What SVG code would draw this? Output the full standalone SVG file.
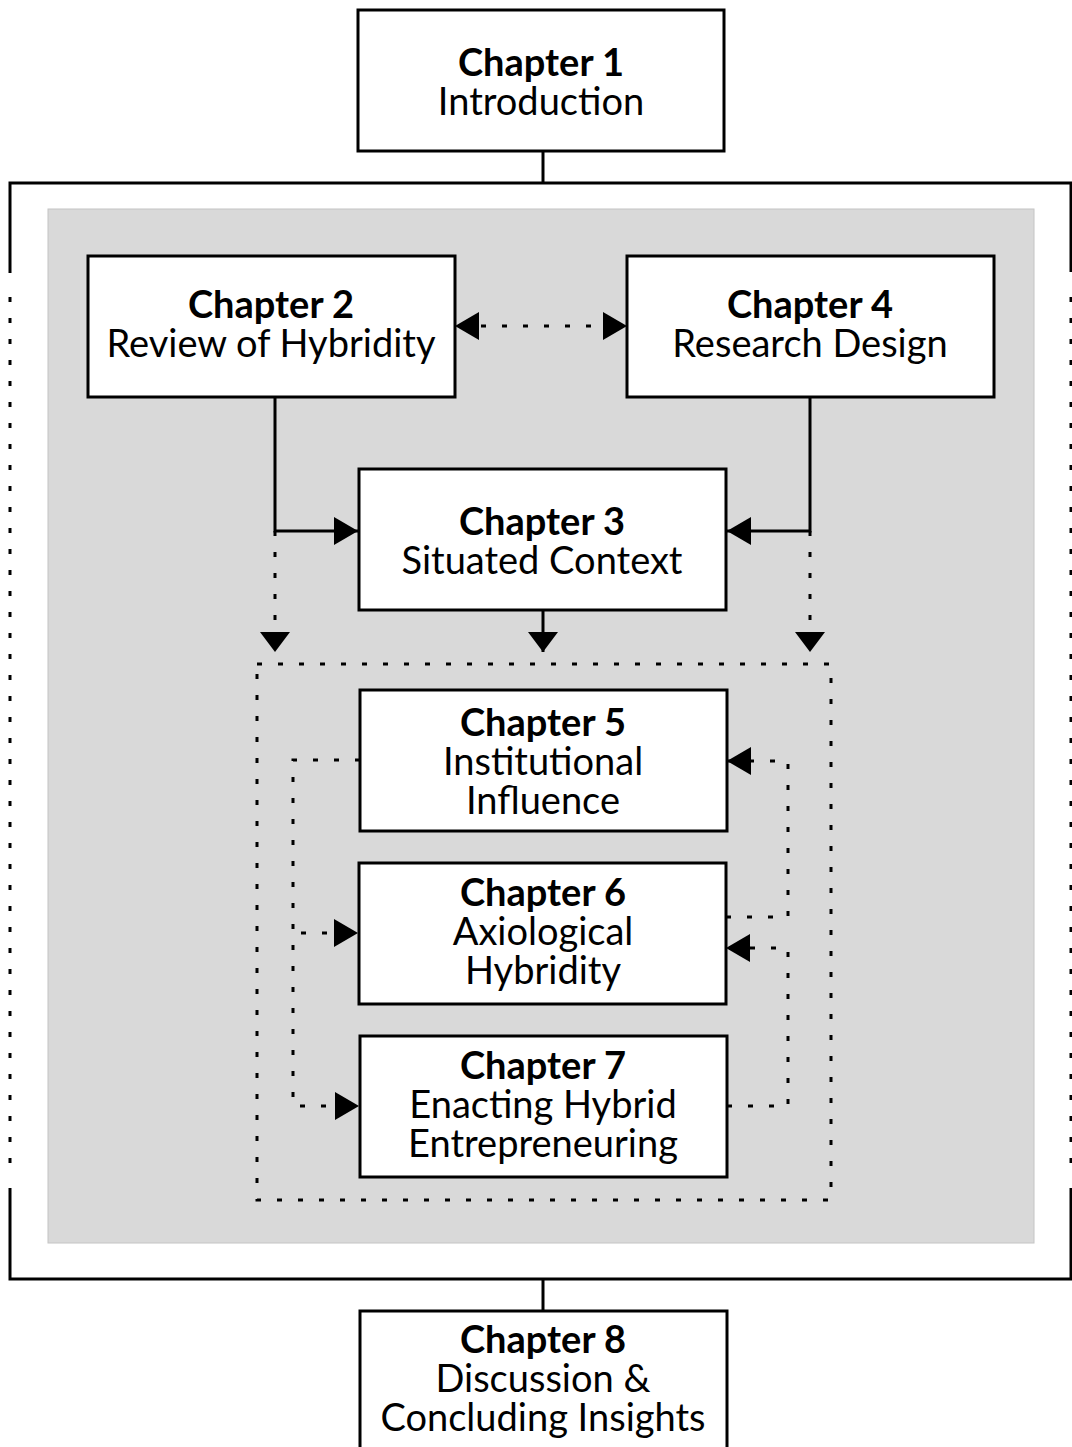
<svg xmlns="http://www.w3.org/2000/svg" width="1072" height="1447" viewBox="0 0 1072 1447">
  <style>
    .box { fill: #ffffff; stroke: #000000; stroke-width: 3; }
    .solid { fill: none; stroke: #000000; stroke-width: 3; }
    .dot { fill: none; stroke: #000000; stroke-width: 3; stroke-dasharray: 5 16; }
    .title { font-family: Lato, "Liberation Sans", sans-serif; font-weight: 700; font-size: 38px; fill: #000000; text-anchor: middle; }
    .sub { font-family: Lato, "Liberation Sans", sans-serif; font-weight: 400; font-size: 38px; fill: #000000; text-anchor: middle; }
  </style>
  <defs>
    <marker id="arrow" markerUnits="userSpaceOnUse" markerWidth="24" markerHeight="28" refX="24" refY="14" orient="auto-start-reverse" viewBox="0 0 24 28">
      <path d="M0,0 L24,14 L0,28 Z" fill="#000000"/>
    </marker>
    <marker id="arrowDown" markerUnits="userSpaceOnUse" markerWidth="20" markerHeight="30" refX="20" refY="15" orient="auto" viewBox="0 0 20 30">
      <path d="M0,0 L20,15 L0,30 Z" fill="#000000"/>
    </marker>
  </defs>

  <rect width="1072" height="1447" fill="#ffffff"/>

  <!-- outer bracket around chapters 2 to 7 -->
  <g id="bracket">
    <path class="solid" d="M10,273 V183 H1071 V272"/>
    <path class="solid" d="M10,1188 V1279 H1071 V1188"/>
    <line class="dot" x1="10" y1="297" x2="10" y2="1170"/>
    <line class="dot" x1="1071" y1="297" x2="1071" y2="1170"/>
  </g>

  <!-- shaded core area -->
  <rect id="core" x="48" y="209" width="986" height="1034" fill="#d9d9d9" stroke="#c4c4c4" stroke-width="1"/>

  <!-- dotted group around chapters 5 to 7 -->
  <rect id="findings" x="257" y="664" width="574" height="536" class="dot"/>

  <g id="connectors">
    <line class="solid" x1="543" y1="151" x2="543" y2="183"/>
    <line class="solid" x1="543" y1="1279" x2="543" y2="1311"/>
    <!-- chapter 2 <-> chapter 4 -->
    <line class="dot" x1="455" y1="326" x2="627" y2="326" marker-start="url(#arrow)" marker-end="url(#arrow)" stroke-dashoffset="-5"/>
    <!-- into chapter 3 -->
    <path class="solid" d="M275,397 V531 H358" marker-end="url(#arrow)"/>
    <path class="solid" d="M810,397 V531 H727" marker-end="url(#arrow)"/>
    <!-- down into findings group -->
    <line class="dot" x1="275" y1="531" x2="275" y2="652" marker-end="url(#arrowDown)"/>
    <line class="dot" x1="810" y1="531" x2="810" y2="652" marker-end="url(#arrowDown)"/>
    <line class="solid" x1="543" y1="610" x2="543" y2="652" marker-end="url(#arrowDown)"/>
    <!-- chapter 5 feeds chapters 6 and 7 -->
    <path class="dot" d="M360,760 H293 V1106 H359" marker-end="url(#arrow)"/>
    <line class="dot" x1="293" y1="933" x2="358" y2="933" marker-end="url(#arrow)" stroke-dashoffset="-8"/>
    <!-- feedback on the right -->
    <path class="dot" d="M726,917 H788 V761 H727" marker-end="url(#arrow)"/>
    <path class="dot" d="M727,1106 H788 V948 H726" marker-end="url(#arrow)"/>
  </g>

  <g id="ch1">
    <rect class="box" x="358" y="10" width="366" height="141"/>
    <text class="title" x="541" y="76">Chapter 1</text>
    <text class="sub" x="541" y="115">Introduction</text>
  </g>
  <g id="ch2">
    <rect class="box" x="88" y="256" width="367" height="141"/>
    <text class="title" x="271" y="318">Chapter 2</text>
    <text class="sub" x="271" y="357">Review of Hybridity</text>
  </g>
  <g id="ch4">
    <rect class="box" x="627" y="256" width="367" height="141"/>
    <text class="title" x="810" y="318">Chapter 4</text>
    <text class="sub" x="810" y="357">Research Design</text>
  </g>
  <g id="ch3">
    <rect class="box" x="359" y="469" width="367" height="141"/>
    <text class="title" x="542" y="535">Chapter 3</text>
    <text class="sub" x="542" y="574">Situated Context</text>
  </g>
  <g id="ch5">
    <rect class="box" x="360" y="690" width="367" height="141"/>
    <text class="title" x="543" y="736">Chapter 5</text>
    <text class="sub" x="543" y="775">Institutional</text>
    <text class="sub" x="543" y="814">Influence</text>
  </g>
  <g id="ch6">
    <rect class="box" x="359" y="863" width="367" height="141"/>
    <text class="title" x="543" y="906">Chapter 6</text>
    <text class="sub" x="543" y="945">Axiological</text>
    <text class="sub" x="543" y="984">Hybridity</text>
  </g>
  <g id="ch7">
    <rect class="box" x="360" y="1036" width="367" height="141"/>
    <text class="title" x="543" y="1079">Chapter 7</text>
    <text class="sub" x="543" y="1118">Enacting Hybrid</text>
    <text class="sub" x="543" y="1157">Entrepreneuring</text>
  </g>
  <g id="ch8">
    <rect class="box" x="360" y="1311" width="367" height="150"/>
    <text class="title" x="543" y="1353">Chapter 8</text>
    <text class="sub" x="543" y="1392">Discussion &amp;</text>
    <text class="sub" x="543" y="1431">Concluding Insights</text>
  </g>
</svg>
